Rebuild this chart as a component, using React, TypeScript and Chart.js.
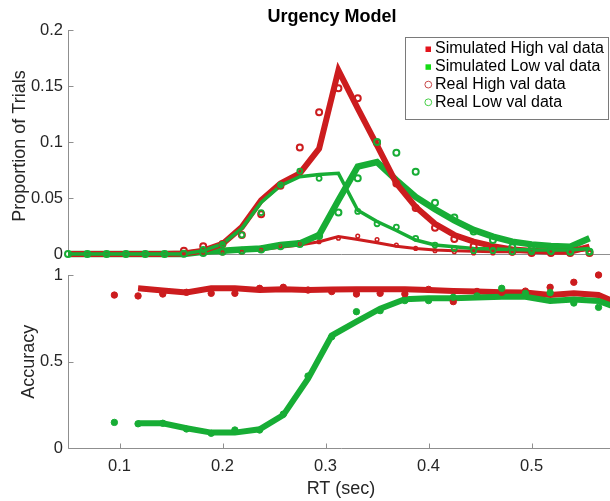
import React, { useEffect, useRef } from 'react';
import { Chart, registerables } from 'chart.js';
Chart.register(...registerables);

// ---------------- data ----------------
const titleText = 'Urgency Model';
const topYTitle = 'Proportion of Trials';
const botYTitle = 'Accuracy';
const xTitle = 'RT (sec)';
const legendLabels = ['Simulated High val data', 'Simulated Low val data', 'Real High val data', 'Real Low val data'];

// RT bins of the distribution panel (sec)
const rtTop = [0.05, 0.06875, 0.0875, 0.10625, 0.125, 0.14375, 0.1625, 0.18125, 0.2, 0.21875, 0.2375, 0.25625, 0.275, 0.29375,
  0.3125, 0.33125, 0.35, 0.36875, 0.3875, 0.40625, 0.425, 0.44375, 0.4625, 0.48125, 0.5, 0.51875, 0.5375, 0.55625];

// simulated distributions
const simHighMain = [0, 0, 0, 0, 0, 0, 0.0005, 0.003, 0.009, 0.024, 0.048, 0.063, 0.072, 0.094, 0.164, 0.130, 0.097, 0.063,
  0.042, 0.027, 0.017, 0.011, 0.007, 0.004, 0.003, 0.002, 0.002, 0.0065];
const simHighOther = [0, 0, 0, 0, 0, 0, 0, 0.001, 0.002, 0.003, 0.004, 0.006, 0.008, 0.011, 0.0155, 0.013, 0.010, 0.007,
  0.005, 0.0036, 0.003, 0.0025, 0.002, 0.002, 0.002, 0.002, 0.002, 0.004];
const simLowMain = [0, 0, 0, 0, 0, 0, 0, 0.002, 0.003, 0.004, 0.005, 0.008, 0.0095, 0.017, 0.048, 0.078, 0.082, 0.066,
  0.051, 0.040, 0.030, 0.0215, 0.0155, 0.011, 0.0086, 0.0071, 0.0065, 0.014];
const simLowOther = [0, 0, 0, 0, 0, 0, 0, 0.003, 0.009, 0.023, 0.046, 0.061, 0.069, 0.071, 0.072, 0.039, 0.029, 0.021,
  0.0125, 0.008, 0.0065, 0.005, 0.0045, 0.004, 0.0035, 0.0035, 0.0035, 0.005];

// real distributions
const realHighMain = [null, null, null, null, null, null, 0.003, 0.007, 0.009, 0.017, 0.0355, 0.061, 0.095, 0.1265, 0.148,
  0.139, 0.099, 0.063, 0.041, 0.0235, 0.0134, 0.007, 0.0056, 0.002, 0.001, 0.001, 0.001, 0.001];
const realHighOther = [null, null, null, null, null, null, 0.001, 0.0006, 0.001, 0.0015, 0.0036, 0.0074, 0.009, 0.011, 0.014,
  0.016, 0.013, 0.008, 0.005, 0.003, 0.002, 0.001, 0.001, 0.001, 0.001, 0.001, 0.001, 0.001];
const realLowMain = [0, 0, 0, 0, 0, 0, 0.0003, 0.001, 0.002, 0.003, 0.004, 0.007, 0.009, 0.016, 0.037, 0.0676, 0.100, 0.0905,
  0.0735, 0.0458, 0.0327, 0.020, 0.0125, 0.006, 0.004, 0.003, 0.002, 0.002];
const realLowOther = [null, null, null, null, null, null, null, 0.004, 0.0085, 0.017, 0.037, 0.0616, 0.074, 0.0676, null,
  0.038, 0.027, 0.024, 0.014, 0.008, 0.005, 0.003, 0.003, 0.002, 0.002, 0.002, 0.002, 0.002];

// RT bins of the accuracy panel (sec)
const rtBottom = [0.095, 0.118, 0.142, 0.165, 0.189, 0.212, 0.236, 0.259, 0.283, 0.306, 0.330, 0.353, 0.377, 0.400,
  0.424, 0.447, 0.471, 0.494, 0.518, 0.541, 0.565, 0.588];
const simHighAcc = [null, 0.923, 0.91, 0.899, 0.923, 0.923, 0.913, 0.917, 0.913, 0.916, 0.917, 0.917, 0.917, 0.913,
  0.908, 0.905, 0.901, 0.899, 0.884, 0.894, 0.884, 0.826];
const simLowAcc = [null, 0.143, 0.143, 0.114, 0.089, 0.089, 0.108, 0.19, 0.40, 0.65, 0.73, 0.805, 0.86, 0.866,
  0.866, 0.87, 0.874, 0.874, 0.85, 0.858, 0.85, 0.80];
const realHighAcc = [0.884, 0.879, 0.89, 0.9, 0.894, 0.894, 0.923, 0.929, 0.913, 0.904, 0.89, 0.894, 0.89, 0.917,
  0.846, 0.905, 0.90, 0.907, 0.929, 0.958, 1.0, null];
const realLowAcc = [0.148, 0.14, 0.143, 0.11, 0.085, 0.104, 0.104, 0.196, 0.416, 0.643, 0.788, 0.794, 0.852, 0.852,
  0.871, 0.879, 0.923, 0.894, 0.898, 0.838, 0.813, null];

const topYTicks = [0, 0.05, 0.1, 0.15, 0.2];
const topYTickLabels = ['0', '0.05', '0.1', '0.15', '0.2'];
const botYTicks = [0, 0.5, 1];
const botYTickLabels = ['0', '0.5', '1'];
const xTicks = [0.1, 0.2, 0.3, 0.4, 0.5];
const xTickLabels = ['0.1', '0.2', '0.3', '0.4', '0.5'];
const X_MIN = 0.05;
const X_MAX = 0.58;

// ---------------- style ----------------
const FONT = '"Liberation Sans", Arial, Helvetica, sans-serif';
const RED = '#cc1c1e';
const GREEN = '#17ad35';
const AXIS = '#8f8f8f';
const TEXT = '#262626';

const pts = (xs: number[], ys: (number | null)[]) => xs.map((x, i) => ({ x, y: ys[i] }));

const lineDs = (data: any, color: string, width: number, order: number) => ({
  data, borderColor: color, backgroundColor: color, borderWidth: width, pointRadius: 0,
  showLine: true, tension: 0, order, clip: false as any, spanGaps: false,
});
const markDs = (data: any, color: string, radius: number, bw: number, order: number, fill = false) => ({
  data, showLine: false, pointRadius: radius, pointBorderWidth: bw, pointBorderColor: color,
  pointBackgroundColor: fill ? color : 'rgba(0,0,0,0)', borderColor: color, backgroundColor: color,
  pointStyle: 'circle', order, clip: false as any,
});

const framePlugin = (id: string, yTicks: number[], xt: number[] | null) => ({
  id,
  beforeDatasetsDraw(chart: any) {
    const { ctx, chartArea: a, scales } = chart;
    ctx.save();
    ctx.strokeStyle = AXIS;
    ctx.lineWidth = 1;
    ctx.beginPath();
    const L = Math.round(a.left) + 0.5;
    const B = Math.round(a.bottom) + 0.5;
    ctx.moveTo(L, Math.round(a.top));
    ctx.lineTo(L, B);
    ctx.lineTo(a.right, B);
    yTicks.forEach((v) => {
      const y = Math.round(scales.y.getPixelForValue(v)) + 0.5;
      ctx.moveTo(L, y);
      ctx.lineTo(L + 5, y);
    });
    if (xt) {
      xt.forEach((v) => {
        const x = Math.round(scales.x.getPixelForValue(v)) + 0.5;
        ctx.moveTo(x, B);
        ctx.lineTo(x, B - 5);
      });
    }
    ctx.stroke();
    ctx.restore();
  },
});

const topTextPlugin = {
  id: 'topText',
  afterDraw(chart: any) {
    const ctx = chart.ctx;
    ctx.save();
    ctx.fillStyle = '#000';
    ctx.font = `bold 18px ${FONT}`;
    ctx.textAlign = 'center';
    ctx.textBaseline = 'alphabetic';
    ctx.fillText(titleText, 332, 22);
    ctx.fillStyle = TEXT;
    ctx.font = `18px ${FONT}`;
    ctx.save();
    ctx.translate(24.6, 146);
    ctx.rotate(-Math.PI / 2);
    ctx.fillText(topYTitle, 0, 0);
    ctx.restore();

    // legend
    ctx.fillStyle = '#fff';
    ctx.fillRect(405, 37, 204, 83);
    ctx.strokeStyle = '#7a7a7a';
    ctx.lineWidth = 1;
    ctx.strokeRect(405.5, 37.5, 203, 82);
    const rows = [49, 66.8, 84.6, 102.3];
    const markColors = ['#e3141c', '#14dc14', '#c94848', '#46d046'];
    legendLabels.forEach((lab, i) => {
      const y = rows[i];
      if (i < 2) {
        ctx.fillStyle = markColors[i];
        ctx.fillRect(425.5, y - 2.5, 5.5, 5.5);
      } else {
        ctx.strokeStyle = markColors[i];
        ctx.lineWidth = 1;
        ctx.beginPath();
        ctx.arc(428.3, y, 3.4, 0, Math.PI * 2);
        ctx.stroke();
      }
      ctx.fillStyle = '#000';
      ctx.font = `16px ${FONT}`;
      ctx.textAlign = 'left';
      ctx.textBaseline = 'middle';
      ctx.fillText(lab, 435, y);
    });
    ctx.restore();
  },
};

const botTextPlugin = {
  id: 'botText',
  afterDraw(chart: any) {
    const ctx = chart.ctx;
    ctx.save();
    ctx.fillStyle = TEXT;
    ctx.font = `18px ${FONT}`;
    ctx.textAlign = 'center';
    ctx.textBaseline = 'alphabetic';
    ctx.fillText(xTitle, 341, 231.5);
    ctx.translate(33.6, 99.7);
    ctx.rotate(-Math.PI / 2);
    ctx.fillText(botYTitle, 0, 0);
    ctx.restore();
  },
};

const xScale = (showLabels: boolean, height: number) => ({
  type: 'linear',
  min: X_MIN,
  max: X_MAX,
  grid: { display: false, drawTicks: false },
  border: { display: false },
  ticks: {
    display: showLabels,
    autoSkip: false,
    maxRotation: 0,
    padding: 9,
    color: TEXT,
    font: { family: FONT, size: 16.5 },
    callback: (_v: any, i: number) => xTickLabels[i],
  },
  afterBuildTicks: (s: any) => { s.ticks = xTicks.map((v) => ({ value: v })); },
  afterFit: (s: any) => { s.height = height; s.paddingLeft = 0; s.paddingRight = 0; },
});

const yScale = (min: number, max: number, ticks: number[], labels: string[]) => ({
  type: 'linear',
  min,
  max,
  grid: { display: false, drawTicks: false },
  border: { display: false },
  ticks: {
    autoSkip: false,
    padding: 5,
    color: TEXT,
    font: { family: FONT, size: 16.5 },
    callback: (_v: any, i: number) => labels[i],
  },
  afterBuildTicks: (s: any) => { s.ticks = ticks.map((v) => ({ value: v })); },
  afterFit: (s: any) => { s.width = 68; s.paddingTop = 0; s.paddingBottom = 0; },
});

export default function App() {
  const topRef = useRef<HTMLCanvasElement>(null);
  const botRef = useRef<HTMLCanvasElement>(null);

  useEffect(() => {
    const top = new Chart(topRef.current as HTMLCanvasElement, {
      type: 'line',
      data: {
        datasets: [
          lineDs(pts(rtTop, simHighOther), RED, 3, 10),
          lineDs(pts(rtTop, simLowMain), GREEN, 6.5, 9),
          lineDs(pts(rtTop, simHighMain), RED, 6, 8),
          lineDs(pts(rtTop, simLowOther), GREEN, 3.5, 7),
          markDs(pts(rtTop, realHighOther), RED, 1.8, 1.5, 6),
          markDs(pts(rtTop, realHighMain), RED, 3, 2, 5),
          markDs(pts(rtTop, realLowOther), GREEN, 2.5, 1.8, 4),
          markDs(pts(rtTop, realLowMain), GREEN, 3, 2, 3),
        ] as any,
      },
      options: {
        animation: false,
        responsive: false,
        devicePixelRatio: 1,
        parsing: false as any,
        normalized: true,
        events: [],
        layout: { padding: { left: 0, top: 30, right: 6, bottom: 8 } },
        plugins: { legend: { display: false }, tooltip: { enabled: false }, title: { display: false } },
        scales: {
          x: xScale(false, 0) as any,
          y: yScale(0, 0.2, topYTicks, topYTickLabels) as any,
        },
      },
      plugins: [framePlugin('topFrame', topYTicks, null), topTextPlugin],
    });

    const bot = new Chart(botRef.current as HTMLCanvasElement, {
      type: 'line',
      data: {
        datasets: [
          lineDs(pts(rtBottom, simHighAcc), RED, 6, 10),
          lineDs(pts(rtBottom, simLowAcc), GREEN, 6, 9),
          markDs(pts(rtBottom, realHighAcc), RED, 3.2, 1, 8, true),
          markDs(pts(rtBottom, realLowAcc), GREEN, 3.2, 1, 7, true),
        ] as any,
      },
      options: {
        animation: false,
        responsive: false,
        devicePixelRatio: 1,
        parsing: false as any,
        normalized: true,
        events: [],
        layout: { padding: { left: 0, top: 13, right: 6, bottom: 0 } },
        plugins: { legend: { display: false }, tooltip: { enabled: false }, title: { display: false } },
        scales: {
          x: xScale(true, 53) as any,
          y: yScale(0, 1, botYTicks, botYTickLabels) as any,
        },
      },
      plugins: [framePlugin('botFrame', botYTicks, xTicks), botTextPlugin],
    });

    return () => {
      top.destroy();
      bot.destroy();
    };
  }, []);

  return (
    <div style={{ position: 'fixed', left: 0, top: 0, width: 610, height: 501, overflow: 'hidden', background: '#fff' }}>
      <canvas ref={topRef} width={620} height={262}
        style={{ position: 'absolute', left: 0, top: 0, width: 620, height: 262 }} />
      <canvas ref={botRef} width={620} height={239}
        style={{ position: 'absolute', left: 0, top: 262, width: 620, height: 239 }} />
    </div>
  );
}
